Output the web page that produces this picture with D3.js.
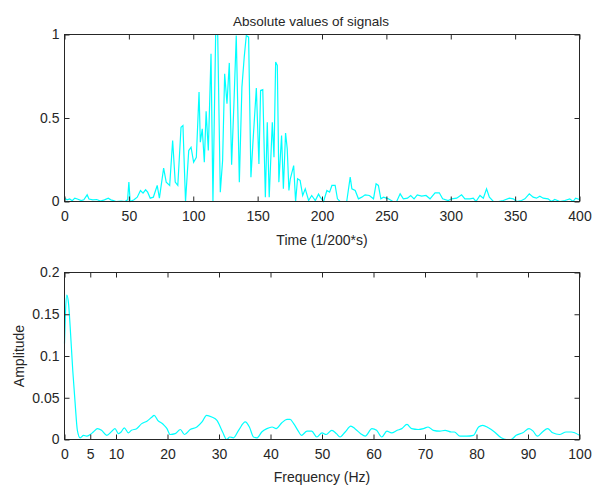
<!DOCTYPE html>
<html lang="en">

<head>
	<meta charset="utf-8">
	<title>signals</title>
	<style>
		body { margin: 0; background: #fff; }
		svg { display: block; font-family: "Liberation Sans", Arial, sans-serif; }
	</style>
</head>

<body>
	<script src="https://cdn.jsdelivr.net/npm/d3@7"></script>
	<script>

		// top panel: |signal| against sample index
		const timeT = [0, 2, 4, 6, 8, 10, 13, 15, 17.6, 19, 22, 25, 28, 31, 34, 36, 38, 40, 44, 47, 49, 50, 51, 54, 56.5, 59, 61, 63, 64.6, 66.6, 69, 72, 73.7, 77, 79, 81.7, 84, 86, 88, 90.5, 92, 94, 96.5, 98.3, 100.3, 102.4, 104.5, 105.5, 107, 108.6, 110, 111.7, 113.8, 115.3, 117.4, 119, 121, 122.8, 124.4, 126.2, 128, 129.8, 131.6, 133.4, 135.8, 137.8, 139.6, 141.2, 143, 144.8, 146.3, 149, 151, 152.3, 154, 156, 157.5, 159, 161.4, 162.7, 164, 165.3, 166.5, 168.6, 170, 171.7, 173, 174.3, 175.4, 178, 179.5, 181, 183, 185, 187, 189.6, 192, 194.8, 197.3, 198.6, 201.2, 203.8, 205.9, 207.7, 210.2, 212, 214, 219.2, 221.9, 223.2, 225.8, 228.3, 230.9, 233.5, 236.8, 240, 242, 243.8, 245.7, 247.8, 251.6, 255, 258, 260.7, 263.2, 266.4, 268.9, 271.5, 274, 277.4, 280.8, 283.9, 287.8, 291.1, 293.7, 298, 300.7, 304.6, 308.4, 311, 314.9, 317.5, 319.6, 322.7, 325.3, 327.8, 330, 333.1, 337, 340.8, 345.5, 348.6, 351.2, 355, 357.6, 361, 364, 366.6, 369.2, 371.8, 375.6, 378.2, 380.8, 384.7, 388.6, 392.4, 395, 397, 400];
		const timeAbs = [0.02, 0.01, 0.015, 0.005, 0.02, 0.015, 0.005, 0.01, 0.04, 0.015, 0.01, 0.012, 0.003, 0.01, 0.02, 0.01, 0.005, 0, 0.002, 0, 0.01, 0.116, 0, 0.01, 0.026, 0.066, 0.05, 0.07, 0.056, 0.02, 0.026, 0.096, 0.02, 0.2, 0.116, 0.096, 0.365, 0.116, 0.096, 0.445, 0.455, 0, 0.305, 0.325, 0.235, 0.265, 0.655, 0.355, 0.435, 0.235, 0.54, 0.305, 0.885, 0, 1, 1, 0.056, 0.245, 0.765, 0.585, 0.83, 0.22, 0.585, 0.994, 0.116, 0.685, 0.865, 0.994, 0.984, 0.146, 0.345, 0.68, 0.225, 0.665, 0.67, 0.026, 0.475, 0.026, 0.475, 0.265, 0.835, 0.815, 0.116, 0.395, 0.076, 0.41, 0.315, 0.066, 0.136, 0.215, 0, 0.136, 0.126, 0.036, 0.076, 0.006, 0.036, 0.006, 0.044, 0.026, 0, 0.066, 0.056, 0.096, 0.096, 0.016, 0, 0, 0.146, 0.076, 0.066, 0.016, 0.026, 0.04, 0.036, 0.016, 0.106, 0.096, 0.016, 0.026, 0.016, 0, 0, 0.046, 0.016, 0.02, 0.036, 0.016, 0.04, 0.032, 0.036, 0.016, 0.052, 0.052, 0.016, 0.006, 0.016, 0.02, 0.04, 0.016, 0.016, 0.02, 0, 0.036, 0.02, 0.076, 0.026, 0, 0, 0.006, 0.02, 0.016, 0, 0.006, 0.016, 0.046, 0.026, 0.02, 0.032, 0.02, 0.016, 0, 0.012, 0, 0.006, 0.016, 0, 0.02, 0.012];

		// bottom panel: amplitude spectrum
		const freqHz = [0, 0.2, 0.45, 0.78, 1.1, 1.6, 2.07, 2.5, 3.04, 3.7, 4.3, 5, 5.6, 6.4, 7.2, 8.2, 9.2, 9.8, 10.5, 11, 11.6, 12.4, 13, 14, 15, 16, 17, 17.4, 18.1, 19.2, 19.9, 20.5, 21.5, 22.5, 23.3, 24.4, 25.7, 26.7, 27.6, 28.6, 29.6, 30.7, 31.5, 32.1, 32.8, 33.8, 35.1, 35.9, 36.7, 37.4, 38.3, 39.3, 40.3, 41.1, 42.2, 43.2, 43.8, 44.5, 45.4, 46, 47.1, 48, 49, 50, 50.8, 51.9, 52.8, 53.5, 54.5, 55.6, 56.4, 57.5, 58.4, 59.7, 60.6, 61.6, 62.6, 63.5, 64.6, 65.5, 66.5, 67.4, 68.7, 69.7, 70.6, 71.6, 72.9, 73.9, 75.1, 75.7, 76.8, 78.1, 79.4, 80.4, 81.2, 82.3, 83.5, 84.8, 85.8, 86.7, 87.7, 89, 90.2, 91, 91.8, 92.8, 93.8, 94.8, 96.1, 97.4, 98.4, 100];
		const amplitude = [0.115, 0.154, 0.173, 0.163, 0.135, 0.083, 0.043, 0.011, 0.002, 0.005, 0.004, 0.006, 0.009, 0.013, 0.011, 0.005, 0.01, 0.013, 0.007, 0.009, 0.014, 0.008, 0.011, 0.013, 0.019, 0.022, 0.027, 0.029, 0.023, 0.018, 0.013, 0.006, 0.007, 0.012, 0.006, 0.012, 0.015, 0.021, 0.029, 0.027, 0.023, 0.009, 0, 0.003, 0.002, 0.011, 0.021, 0.015, 0.003, 0.002, 0.009, 0.013, 0.015, 0.013, 0.02, 0.024, 0.024, 0.019, 0.01, 0.005, 0.01, 0.01, 0.003, 0.008, 0.006, 0.011, 0.007, 0.003, 0.009, 0.016, 0.013, 0.007, 0.004, 0.013, 0.011, 0.003, 0.01, 0.008, 0.011, 0.013, 0.018, 0.013, 0.012, 0.013, 0.015, 0.011, 0.01, 0.011, 0.009, 0.009, 0.004, 0.004, 0.005, 0.015, 0.017, 0.014, 0.009, 0.002, 0, 0, 0.005, 0.008, 0.013, 0.01, 0.004, 0.009, 0.013, 0.008, 0.006, 0.009, 0.009, 0.005];

		const timeTicks = [0, 50, 100, 150, 200, 250, 300, 350, 400];
		const absTicks = [0, 0.5, 1];
		const freqTicks = [0, 5, 10, 20, 30, 40, 50, 60, 70, 80, 90, 100];
		const ampTicks = [0, 0.05, 0.1, 0.15, 0.2];

		const width = 592;
		const height = 485;
		const left = 64.5;
		const right = 579.5;
		const ink = "#262626";
		const lineColor = "#00ffff";
		const fontSize = 14;

		const svg = d3.select("body")
			.append("svg")
			.attr("width", width)
			.attr("height", height)
			.attr("font-size", fontSize)
			.attr("fill", ink);

		function drawPanel(opts) {
			const x = d3.scaleLinear().domain(opts.xDomain).range([left, right]);
			const y = d3.scaleLinear().domain(opts.yDomain).range([opts.bottom, opts.top]);
			const fmt = (d) => {
				return String(d);
			};

			const g = svg.append("g");

			const line = d3.line()
				.x((d) => {
					return x(d[0]);
				})
				.y((d) => {
					return y(d[1]);
				})
				.curve(opts.curve);

			g.append("path")
				.datum(d3.zip(opts.xs, opts.ys))
				.attr("fill", "none")
				.attr("stroke", lineColor)
				.attr("stroke-width", 1.2)
				.attr("d", line);

			// ticks point inward on all four sides, labels only bottom / left
			const axes = [
				{ axis: d3.axisBottom(x).tickValues(opts.xTicks).tickPadding(10), t: `translate(0,${opts.bottom})`, labels: true },
				{ axis: d3.axisTop(x).tickValues(opts.xTicks), t: `translate(0,${opts.top})`, labels: false },
				{ axis: d3.axisLeft(y).tickValues(opts.yTicks).tickPadding(5), t: `translate(${left},0)`, labels: true },
				{ axis: d3.axisRight(y).tickValues(opts.yTicks), t: `translate(${right},0)`, labels: false }
			];
			for (const a of axes) {
				a.axis.tickSize(-5).tickFormat(a.labels ? fmt : "");
				const ag = g.append("g")
					.attr("transform", a.t)
					.call(a.axis)
					.attr("font-family", null)
					.attr("font-size", null);
				ag.select(".domain").remove();
				ag.selectAll("line").attr("stroke", ink);
				ag.selectAll("text").attr("fill", ink);
			}

			g.append("rect")
				.attr("x", left)
				.attr("y", opts.top)
				.attr("width", right - left)
				.attr("height", opts.bottom - opts.top)
				.attr("fill", "none")
				.attr("stroke", ink);

			g.append("text")
				.attr("x", (left + right) / 2)
				.attr("y", opts.xLabelY)
				.attr("text-anchor", "middle")
				.text(opts.xLabel);

			return g;
		}

		drawPanel({
			xs: timeT, ys: timeAbs,
			xDomain: [0, 400], yDomain: [0, 1],
			xTicks: timeTicks, yTicks: absTicks,
			top: 34.5, bottom: 201.5,
			curve: d3.curveLinear,
			xLabel: "Time (1/200*s)", xLabelY: 245
		});

		svg.append("text")
			.attr("x", 311)
			.attr("y", 26)
			.attr("font-size", 13.5)
			.attr("text-anchor", "middle")
			.text("Absolute values of signals");

		drawPanel({
			xs: freqHz, ys: amplitude,
			xDomain: [0, 100], yDomain: [0, 0.2],
			xTicks: freqTicks, yTicks: ampTicks,
			top: 272.5, bottom: 439.5,
			curve: d3.curveMonotoneX,
			xLabel: "Frequency (Hz)", xLabelY: 482
		});

		svg.append("text")
			.attr("transform", "translate(24,356) rotate(-90)")
			.attr("text-anchor", "middle")
			.text("Amplitude");

	</script>
</body>

</html>
